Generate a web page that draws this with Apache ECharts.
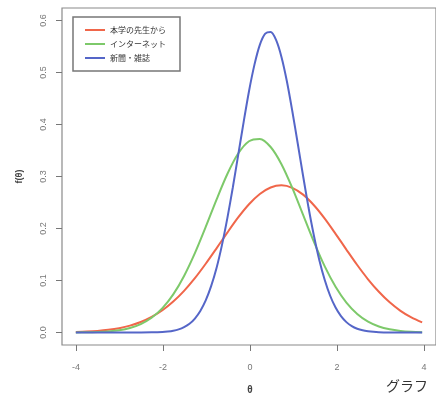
<!DOCTYPE html>
<html>
<head>
<meta charset="utf-8">
<script src="https://cdn.jsdelivr.net/npm/echarts@6/dist/echarts.min.js"></script>
<style>
  html, body { margin: 0; padding: 0; background: #fff; }
  #chart-container { width: 436px; height: 400px; }
</style>
</head>
<body>
<div id="chart-container"></div>
<script>
// theta grid (read every 0.25)
var thetaValues = [-4, -3.75, -3.5, -3.25, -3, -2.75, -2.5, -2.25, -2, -1.75, -1.5, -1.25, -1, -0.75, -0.5, -0.25,
  0, 0.25, 0.5, 0.75, 1, 1.25, 1.5, 1.75, 2, 2.25, 2.5, 2.75, 3, 3.25, 3.5, 3.75, 4];

var seriesNames = ['本学の先生から', 'インターネット', '新聞・雑誌'];

var teacherValues = [0.0010, 0.0018, 0.0031, 0.0052, 0.0084, 0.0132, 0.0202, 0.0299, 0.0428, 0.0595, 0.0801, 0.1045,
  0.1322, 0.1619, 0.1922, 0.2212, 0.2466, 0.2664, 0.2789, 0.2830, 0.2782, 0.2651, 0.2447, 0.2190, 0.1898, 0.1595,
  0.1298, 0.1024, 0.0783, 0.0580, 0.0417, 0.0290, 0.0195];

var internetValues = [0.0002, 0.0004, 0.0010, 0.0022, 0.0045, 0.0088, 0.0162, 0.0283, 0.0468, 0.0733, 0.1088, 0.1527,
  0.2031, 0.2557, 0.3048, 0.3441, 0.3678, 0.3722, 0.3567, 0.3237, 0.2781, 0.2262, 0.1743, 0.1271, 0.0878, 0.0574,
  0.0356, 0.0209, 0.0116, 0.0061, 0.0030, 0.0014, 0.0006];

// narrow curve, read more finely around the peak
var mediaTheta = [-4, -3.5, -3, -2.5, -2.25, -2, -1.875, -1.75, -1.625, -1.5, -1.375, -1.25, -1.125, -1, -0.875,
  -0.75, -0.625, -0.5, -0.375, -0.25, -0.125, 0, 0.125, 0.25, 0.375, 0.5, 0.625, 0.75, 0.875, 1, 1.125, 1.25,
  1.375, 1.5, 1.625, 1.75, 1.875, 2, 2.125, 2.25, 2.375, 2.5, 2.625, 2.75, 2.875, 3, 3.25, 3.5, 4];
var mediaValues = [0, 0, 0, 0.0001, 0.0003, 0.0010, 0.0019, 0.0034, 0.0060, 0.0103, 0.0168, 0.0269, 0.0414, 0.0617,
  0.0891, 0.1240, 0.1681, 0.2200, 0.2784, 0.3410, 0.4041, 0.4640, 0.5146, 0.5530, 0.5746, 0.5780, 0.5627, 0.5300,
  0.4832, 0.4260, 0.3639, 0.3010, 0.2403, 0.1860, 0.1391, 0.1010, 0.0707, 0.0480, 0.0315, 0.0200, 0.0123, 0.0073,
  0.0042, 0.0024, 0.0013, 0.0007, 0.0002, 0, 0];

var lineColors = ['#f0664a', '#7dc96a', '#5566c8'];

function pairs(xs, vals) {
  return xs.map(function (t, i) { return [t, vals[i]]; });
}

var dom = document.getElementById('chart-container');
var myChart = echarts.init(dom, null, { renderer: 'canvas' });

// grid 0: plot box (R style, 4% padding) + curves
// grid 1: thin strip under the box, x ticks drawn as split lines
// grid 2: thin strip left of the box, y ticks drawn as split lines
var tickLine = { show: true, lineStyle: { color: '#777', width: 1, type: 'solid' } };

var option = {
  animation: false,
  color: lineColors,
  grid: [
    { left: 62, top: 8, width: 376, height: 337, show: true, borderColor: '#8a8a8a', borderWidth: 1.2 },
    { left: 75.9, top: 345, width: 348.2, height: 6 },
    { left: 56, top: 20.5, width: 6, height: 312 }
  ],
  legend: {
    orient: 'vertical',
    left: 73, top: 17,
    padding: [7, 14, 7, 12],
    itemGap: 2,
    itemWidth: 20, itemHeight: 2,
    icon: 'rect',
    borderColor: '#777', borderWidth: 1.5,
    textStyle: { fontSize: 8, lineHeight: 12, color: '#333', fontFamily: 'Noto Sans CJK JP' },
    data: seriesNames
  },
  xAxis: [
    { type: 'value', gridIndex: 0, min: -4.32, max: 4.32, show: false },
    {
      type: 'value', gridIndex: 1, min: -4, max: 4, interval: 2,
      name: 'θ', nameLocation: 'middle', nameGap: 34,
      nameTextStyle: { fontSize: 10, fontWeight: 'bold', color: '#444' },
      axisLine: { show: false },
      axisTick: { show: false },
      splitLine: tickLine,
      axisLabel: { fontSize: 9, color: '#777', margin: 12 }
    },
    { type: 'value', gridIndex: 2, min: 1, max: 2, show: false }
  ],
  yAxis: [
    { type: 'value', gridIndex: 0, min: -0.024, max: 0.624, show: false },
    { type: 'value', gridIndex: 1, min: 1, max: 2, show: false },
    {
      type: 'value', gridIndex: 2, min: 0, max: 0.6, interval: 0.1,
      name: 'f(θ)', nameLocation: 'middle', nameGap: 32,
      nameTextStyle: { fontSize: 9, fontWeight: 'bold', color: '#444' },
      axisLine: { show: false },
      axisTick: { show: false },
      splitLine: tickLine,
      axisLabel: {
        fontSize: 9, color: '#777', rotate: 90, margin: 8,
        formatter: function (v) { return v.toFixed(1); }
      }
    }
  ],
  graphic: [{
    type: 'text', left: 386, top: 379,
    style: { text: 'グラフ', fontSize: 14, fill: '#333', fontFamily: 'Noto Sans CJK JP' }
  }],
  series: [
    { name: seriesNames[0], type: 'line', smooth: 0.3, symbol: 'none', data: pairs(thetaValues, teacherValues), lineStyle: { width: 2 } },
    { name: seriesNames[1], type: 'line', smooth: 0.3, symbol: 'none', data: pairs(thetaValues, internetValues), lineStyle: { width: 2 } },
    { name: seriesNames[2], type: 'line', smooth: 0.3, symbol: 'none', data: pairs(mediaTheta, mediaValues), lineStyle: { width: 2 } }
  ]
};

myChart.setOption(option);
window.addEventListener('resize', myChart.resize);
</script>
</body>
</html>
